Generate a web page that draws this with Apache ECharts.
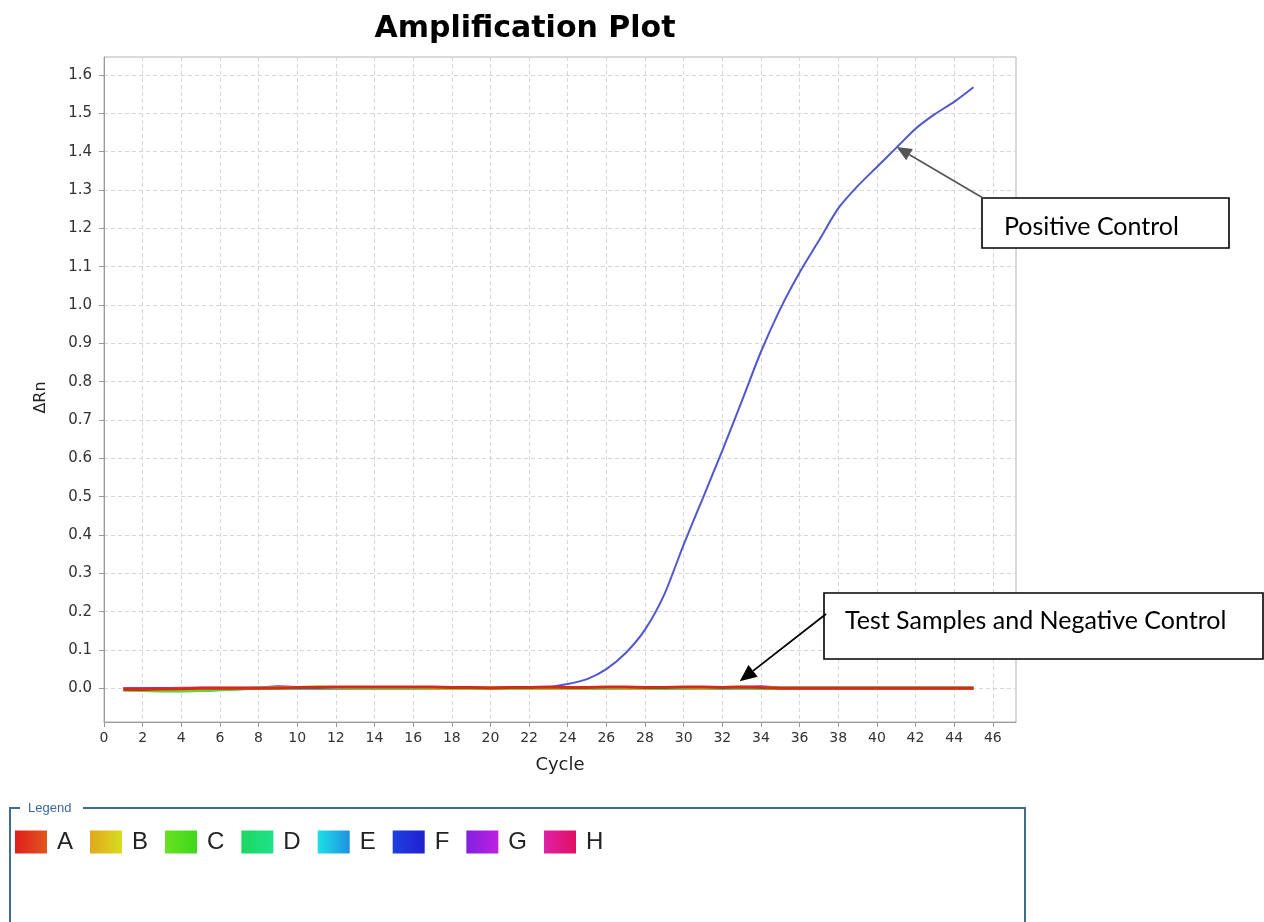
<!DOCTYPE html>
<html>
<head>
<meta charset="utf-8">
<script src="https://cdn.jsdelivr.net/npm/echarts@6/dist/echarts.min.js"></script>
<style>
  html, body { margin: 0; padding: 0; background: #fff; }
  #chart { width: 1264px; height: 922px; }
</style>
</head>
<body>
<div id="chart"></div>
<script>
// ---------------- data ----------------
const cycles = [1,2,3,4,5,6,7,8,9,10,11,12,13,14,15,16,17,18,19,20,21,22,23,24,25,26,27,28,29,30,31,32,33,34,35,36,37,38,39,40,41,42,43,44,45];

const wellA = [-0.003,-0.003,-0.002,-0.001,0,0,0,0,0.001,0.002,0.002,0.003,0.003,0.003,0.003,0.003,0.003,0.002,0.002,0.001,0.002,0.002,0.003,0.002,0.002,0.003,0.003,0.002,0.002,0.003,0.003,0.002,0.003,0.002,0,0,0,0,0,0,0,0,0,0,0];
const wellB = [-0.004,-0.004,-0.003,-0.002,-0.001,0,0,0,0.001,0.002,0.003,0.002,0.002,0.002,0.002,0.002,0.001,0.001,0.001,0.001,0.001,0.001,0.001,0.001,0.001,0.002,0.001,0.001,0.002,0.002,0.001,0.002,0.003,0.002,0,0,0,0,0,0,0,0,0,0,0];
const wellC = [-0.004,-0.005,-0.006,-0.006,-0.005,-0.003,-0.001,0,0.001,0.002,0.003,0.002,0.001,0.001,0.001,0.001,0.001,0,0,0,0.001,0.001,0.001,0.001,0.001,0.001,0.001,0.001,0.001,0.001,0.001,0.001,0.002,0.001,0,0,0,0,0,0,0,0,0,0,0];
const wellD = [-0.004,-0.006,-0.007,-0.007,-0.006,-0.004,-0.001,0,0.001,0.001,0.001,0.001,0.001,0.001,0.001,0.001,0,0,0,0,0,0.001,0.001,0.001,0.001,0.001,0.001,0,0,0.001,0.001,0.001,0.001,0.001,0,0,0,0,0,0,0,0,0,0,0];
const wellE = [-0.003,-0.005,-0.006,-0.006,-0.005,-0.003,-0.001,0,0.001,0.001,0.001,0.001,0.001,0.001,0.001,0.001,0,0,0,0,0,0,0.001,0.001,0.001,0.001,0.001,0,0,0.001,0.001,0.001,0.001,0.001,0,0,0,0,0,0,0,0,0,0,0];
const wellF = [0,0,0,0,0,0,0,0,0,0,0,0,0,0,0,0,0,0,0,0,0.001,0.001,0.003,0.011,0.024,0.05,0.092,0.153,0.245,0.375,0.497,0.62,0.748,0.878,0.99,1.085,1.168,1.252,1.31,1.36,1.41,1.46,1.498,1.53,1.568];
const wellG = [-0.002,-0.002,-0.001,0,0,0,0,0.001,0.004,0.002,0.001,0.001,0.001,0.001,0.001,0.001,0.001,0,0,0,0,0.001,0.001,0.001,0.001,0.001,0.001,0.001,0.001,0.001,0.001,0.001,0.002,0.004,0.001,0,0,0,0,0,0,0,0,0,0];
const wellH = [-0.002,-0.002,-0.001,-0.001,0,0,0,0,0.001,0.001,0.001,0.002,0.002,0.002,0.002,0.002,0.001,0.001,0.001,0.001,0.001,0.001,0.002,0.002,0.002,0.002,0.002,0.001,0.001,0.002,0.002,0.001,0.002,0.001,0,0,0,0,0,0,0,0,0,0,0];

const legendNames = ['A','B','C','D','E','F','G','H'];
const xTickValues = [0,2,4,6,8,10,12,14,16,18,20,22,24,26,28,30,32,34,36,38,40,42,44,46];
const yTickValues = [0,0.1,0.2,0.3,0.4,0.5,0.6,0.7,0.8,0.9,1.0,1.1,1.2,1.3,1.4,1.5,1.6];

// ---------------- styles ----------------
const lineColors = {A:'#d42a1c', B:'#e8b020', C:'#55dd20', D:'#20dd70', E:'#20b8e8', F:'#5257cf', G:'#9a22e0', H:'#e0209a'};
const legendGrad = {
  A:['#e01e1e','#e0561e'], B:['#e0a81e','#d8dc20'], C:['#6ae020','#3ed81e'], D:['#1ed860','#1ee08a'],
  E:['#1ee0e6','#1e90e0'], F:['#1e40e0','#2020d0'], G:['#8020e0','#c020e0'], H:['#e020a8','#e01060']
};
const wells = {A:wellA,B:wellB,C:wellC,D:wellD,E:wellE,F:wellF,G:wellG,H:wellH};
const drawOrder = ['F','H','G','E','D','C','B','A'];

function pairs(vals){ return cycles.map((c,i)=>[c, vals[i]]); }

const series = drawOrder.map(k => ({
  name: k, type: 'line', data: pairs(wells[k]), showSymbol: false, symbol: 'none',
  smooth: k === 'F' ? 0.25 : false, silent: true,
  lineStyle: { color: lineColors[k], width: k === 'F' ? 2 : 3 },
  itemStyle: { color: lineColors[k] },
  z: 2
}));

const labelFont = 'DejaVu Sans';
const chart = echarts.init(document.getElementById('chart'), null, {renderer:'canvas'});

chart.setOption({
  animation: false,
  backgroundColor: '#ffffff',
  title: {
    text: 'Amplification Plot', left: 520, top: 9, textAlign: 'center',
    textStyle: { fontFamily: 'DejaVu Sans', fontWeight: 'bold', fontSize: 30, color: '#000' }
  },
  grid: { left: 104, right: 248, top: 57, bottom: 200, show: true, borderColor: '#b4b4b4', borderWidth: 1, backgroundColor: '#fff' },
  legend: {
    data: legendNames.map(n => ({
      name: n, icon: 'rect',
      itemStyle: { color: { type:'linear', x:0, y:0, x2:1, y2:0, colorStops:[{offset:0,color:legendGrad[n][0]},{offset:1,color:legendGrad[n][1]}] }, borderWidth: 0 }
    })),
    left: 15, top: 830, orient: 'horizontal', padding: 0,
    itemWidth: 32, itemHeight: 23, itemGap: 17, selectedMode: false,
    textStyle: { fontFamily: 'Liberation Sans', fontSize: 24, color: '#222', padding: [0,0,0,5] }
  },
  xAxis: {
    type: 'value', min: 0, max: 47.2, interval: 2,
    name: 'Cycle', nameLocation: 'middle', nameGap: 34,
    nameTextStyle: { fontFamily: labelFont, fontSize: 18, color: '#222' },
    axisLine: { show: true, onZero: false, lineStyle: { color: '#9a9a9a', width: 1 } },
    axisTick: { show: true, length: 5, customValues: xTickValues, lineStyle: { color: '#9a9a9a' } },
    axisLabel: { customValues: xTickValues, margin: 9, fontFamily: labelFont, fontSize: 14, color: '#333' },
    splitLine: { show: true, lineStyle: { color: '#d6d6d6', type: [4,3], width: 1 } }
  },
  yAxis: {
    type: 'value', min: -0.088, max: 1.647,
    name: 'ΔRn', nameLocation: 'middle', nameGap: 55, nameRotate: 90,
    nameTextStyle: { fontFamily: labelFont, fontSize: 16, color: '#222', padding: [0,16,0,0] },
    axisLine: { show: true, onZero: false, lineStyle: { color: '#9a9a9a', width: 1 } },
    axisTick: { show: true, length: 5, customValues: yTickValues, lineStyle: { color: '#9a9a9a' } },
    axisLabel: { customValues: yTickValues, margin: 12, fontFamily: labelFont, fontSize: 15, color: '#333',
                 formatter: v => Number(v).toFixed(1) },
    splitLine: { show: true, lineStyle: { color: '#d6d6d6', type: [4,3], width: 1 } }
  },
  series: series
});

// ---------------- annotations ----------------
function arrow(tail, tip, color, headLen, headW, lw){
  const dx = tip[0]-tail[0], dy = tip[1]-tail[1];
  const L = Math.sqrt(dx*dx+dy*dy), ux = dx/L, uy = dy/L;
  const bx = tip[0]-ux*headLen, by = tip[1]-uy*headLen;
  const px = -uy*headW/2, py = ux*headW/2;
  return [
    { type:'line', shape:{x1:tail[0], y1:tail[1], x2:bx, y2:by}, style:{stroke:color, lineWidth:lw}, z: 100 },
    { type:'polygon', shape:{points:[[tip[0],tip[1]],[bx+px,by+py],[bx-px,by-py]]}, style:{fill:color}, z: 100 }
  ];
}
const posTip = chart.convertToPixel({gridIndex:0}, [41.02, 1.412]);
const negTip = chart.convertToPixel({gridIndex:0}, [32.9, 0.018]);

const graphics = [
  { type:'rect', shape:{x:982, y:198, width:247, height:50}, style:{fill:'#fff', stroke:'#000', lineWidth:1.6}, z:100 },
  { type:'text', x:1004, y:227, style:{text:'Positive Control', fontFamily:'Lato', fontSize:25, fill:'#000', verticalAlign:'middle', align:'left'}, z:101 },
  { type:'rect', shape:{x:824, y:593, width:439, height:66}, style:{fill:'#fff', stroke:'#000', lineWidth:1.6}, z:100 },
  { type:'text', x:845, y:621, style:{text:'Test Samples and Negative Control', fontFamily:'Lato', fontSize:25, fill:'#000', verticalAlign:'middle', align:'left'}, z:101 },
  // legend frame
  { type:'polyline', shape:{points:[[20,808],[10,808],[10,930]]}, style:{stroke:'#3f6e8e', lineWidth:2, fill:null}, z:100 },
  { type:'polyline', shape:{points:[[83,808],[1025,808],[1025,930]]}, style:{stroke:'#3f6e8e', lineWidth:2, fill:null}, z:100 },
  { type:'text', x:28, y:808, style:{text:'Legend', fontFamily:'Liberation Sans', fontSize:13, fill:'#3a6a98', verticalAlign:'middle', align:'left'}, z:101 }
].concat(arrow([983,198], posTip, '#555555', 15, 13, 1.6))
 .concat(arrow([826,614], negTip, '#000000', 17, 15, 1.8));

chart.setOption({ graphic: graphics });
</script>
</body>
</html>
